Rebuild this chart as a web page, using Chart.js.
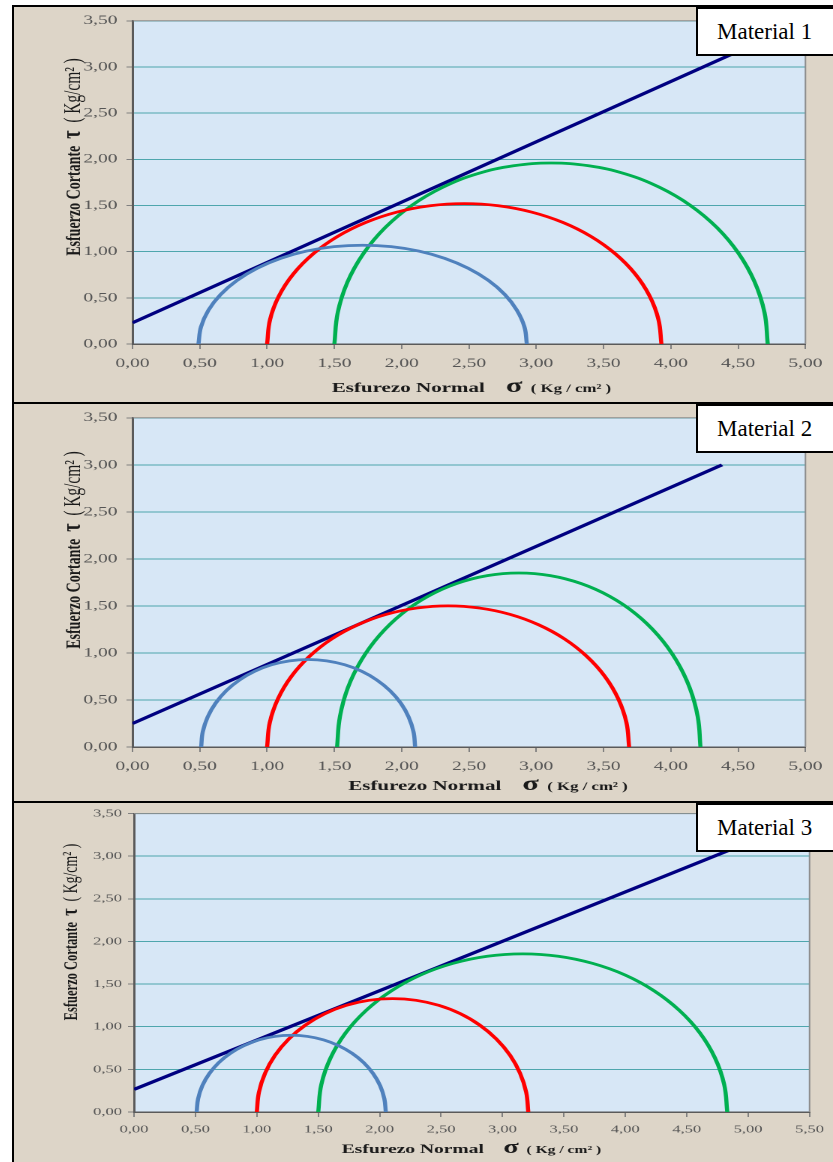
<!DOCTYPE html>
<html>
<head>
<meta charset="utf-8">
<script src="https://cdn.jsdelivr.net/npm/chart.js@4.4.0/dist/chart.umd.min.js"></script>
<style>
html, body { margin: 0; padding: 0; overflow: hidden; background: #fff; }
body { width: 833px; height: 1162px; position: relative; }
.panel { position: absolute; left: 12px; width: 840px; border: 2px solid #000; box-sizing: border-box; background: #ddd5c8; overflow: hidden; }
.panel canvas { position: absolute; left: 0; top: 0; transform: scaleX(1.5); transform-origin: 0 0; }
.legend { position: absolute; left: 696px; width: 160px; height: 49px; border: 2px solid #000; box-sizing: border-box; background: #fff;
  font-family: "Liberation Serif", serif; font-size: 23px; line-height: 45px; padding-left: 19px; color: #000; }
</style>
</head>
<body>
<div class="panel" style="top:5px;height:400px"><canvas id="c1" width="546" height="396"></canvas></div>
<div class="panel" style="top:402px;height:401px"><canvas id="c2" width="546" height="397"></canvas></div>
<div class="panel" style="top:801px;height:370px"><canvas id="c3" width="546" height="359"></canvas></div>
<div class="legend" style="top:7px">Material 1</div>
<div class="legend" style="top:404px">Material 2</div>
<div class="legend" style="top:803px">Material 3</div>
<script>
// Material 1 : [sigma, tau]
const m1Circle1 = [[0.49,0],[0.509,0.186],[0.564,0.366],[0.654,0.535],[0.776,0.688],[0.926,0.820],[1.100,0.927],[1.293,1.006],[1.498,1.054],[1.71,1.07],[1.922,1.054],[2.127,1.006],[2.320,0.927],[2.494,0.820],[2.645,0.688],[2.767,0.535],[2.856,0.366],[2.912,0.186],[2.93,0]];
const m1Circle2 = [[1.00,0],[1.022,0.264],[1.088,0.520],[1.196,0.760],[1.343,0.977],[1.523,1.164],[1.733,1.316],[1.964,1.428],[2.211,1.497],[2.465,1.52],[2.719,1.497],[2.966,1.428],[3.198,1.316],[3.407,1.164],[3.587,0.977],[3.734,0.760],[3.842,0.520],[3.908,0.264],[3.93,0]];
const m1Circle3 = [[1.50,0],[1.525,0.340],[1.597,0.670],[1.716,0.980],[1.877,1.260],[2.075,1.501],[2.305,1.697],[2.559,1.842],[2.831,1.930],[3.11,1.96],[3.390,1.930],[3.661,1.842],[3.915,1.697],[4.145,1.501],[4.343,1.260],[4.504,0.980],[4.623,0.670],[4.696,0.340],[4.72,0]];
const m1Envelope = [[0,0.23],[4.70,3.30]];

// Material 2
const m2Circle1 = [[0.51,0],[0.522,0.161],[0.558,0.318],[0.617,0.465],[0.696,0.598],[0.794,0.712],[0.908,0.805],[1.033,0.874],[1.167,0.916],[1.305,0.93],[1.443,0.916],[1.577,0.874],[1.703,0.805],[1.816,0.712],[1.914,0.598],[1.994,0.465],[2.052,0.318],[2.088,0.161],[2.10,0]];
const m2Circle2 = [[1.00,0],[1.020,0.260],[1.081,0.513],[1.180,0.750],[1.315,0.964],[1.480,1.149],[1.673,1.299],[1.885,1.410],[2.112,1.477],[2.345,1.50],[2.579,1.477],[2.805,1.410],[3.018,1.299],[3.210,1.149],[3.375,0.964],[3.510,0.750],[3.609,0.513],[3.670,0.260],[3.69,0]];
const m2Circle3 = [[1.52,0],[1.541,0.321],[1.601,0.633],[1.701,0.925],[1.836,1.189],[2.002,1.417],[2.195,1.602],[2.408,1.738],[2.636,1.822],[2.87,1.85],[3.104,1.822],[3.332,1.738],[3.545,1.602],[3.738,1.417],[3.904,1.189],[4.039,0.925],[4.139,0.633],[4.200,0.321],[4.22,0]];
const m2Envelope = [[0,0.25],[4.38,3.00]];

// Material 3
const m3Circle1 = [[0.51,0],[0.522,0.156],[0.556,0.308],[0.613,0.450],[0.690,0.579],[0.785,0.689],[0.895,0.779],[1.017,0.846],[1.146,0.886],[1.28,0.90],[1.414,0.886],[1.543,0.846],[1.665,0.779],[1.775,0.689],[1.870,0.579],[1.947,0.450],[2.004,0.308],[2.038,0.156],[2.05,0]];
const m3Circle2 = [[1.00,0],[1.017,0.231],[1.067,0.455],[1.148,0.665],[1.259,0.855],[1.395,1.019],[1.553,1.152],[1.727,1.250],[1.913,1.310],[2.105,1.33],[2.297,1.310],[2.483,1.250],[2.658,1.152],[2.815,1.019],[2.951,0.855],[3.062,0.665],[3.143,0.455],[3.193,0.231],[3.21,0]];
const m3Circle3 = [[1.50,0],[1.525,0.322],[1.600,0.634],[1.723,0.928],[1.890,1.192],[2.095,1.421],[2.333,1.607],[2.596,1.743],[2.876,1.827],[3.165,1.855],[3.454,1.827],[3.734,1.743],[3.998,1.607],[4.235,1.421],[4.440,1.192],[4.607,0.928],[4.730,0.634],[4.805,0.322],[4.83,0]];
const m3Envelope = [[0,0.265],[5.00,3.16]];

// axis titles, split in runs with their own font size
const xTitleRuns = [['Esfurezo Normal', 'bold', 1], ['    ', 'bold', 1], ['\u03c3', 'bold', 1.45], ['  ( Kg / cm\u00b2 )', 'bold', 0.8]];
const yTitleRuns = [['Esfuerzo Cortante', 'bold', 1], ['  ', 'bold', 1], ['\u03c4', 'bold', 1.3], ['  ( Kg/cm\u00b2 )', 'normal', 1.1]];

const fmt = v => Number(v).toFixed(2).replace('.', ',');
const toPts = a => a.map(p => ({ x: p[0], y: p[1] }));

function drawRuns(ctx, runs, size, x, y, rotate) {
  ctx.save();
  ctx.translate(x, y);
  if (rotate) ctx.rotate(-Math.PI / 2);
  ctx.fillStyle = '#1a1a1a';
  ctx.textBaseline = 'alphabetic';
  ctx.textAlign = 'left';
  const fonts = runs.map(r => r[1] + ' ' + (size * r[2]).toFixed(1) + 'px "Liberation Serif"');
  let total = 0;
  const widths = runs.map((r, i) => { ctx.font = fonts[i]; const w = ctx.measureText(r[0]).width; total += w; return w; });
  let pos = -total / 2;
  runs.forEach((r, i) => { ctx.font = fonts[i]; ctx.fillText(r[0], pos, 0); pos += widths[i]; });
  ctx.restore();
}

// plot area fill, frame and axis titles
const plotBg = {
  id: 'plotBg',
  beforeDraw(chart) {
    const { ctx, chartArea: a } = chart;
    ctx.save();
    ctx.fillStyle = '#d7e7f6';
    ctx.fillRect(a.left, a.top, a.width, a.height);
    ctx.restore();
  },
  afterDraw(chart, args, opts) {
    const { ctx, chartArea: a } = chart;
    ctx.save();
    ctx.strokeStyle = '#8c8c8c';
    ctx.lineWidth = 1;
    ctx.beginPath();
    ctx.moveTo(a.left, a.top);
    ctx.lineTo(a.right, a.top);
    ctx.lineTo(a.right, a.bottom);
    ctx.stroke();
    ctx.restore();
    drawRuns(ctx, xTitleRuns, opts.xSize, opts.xCenter, opts.xBase, false);
    drawRuns(ctx, yTitleRuns, opts.ySize, opts.yBase, opts.yCenter, true);
  }
};

function makeChart(id, circles, envelope, o) {
  const colors = ['#4f81bd', '#ff0000', '#00b050'];
  const datasets = circles.map((c, i) => ({
    data: toPts(c), borderColor: colors[i], borderWidth: 2.75, tension: 0.4
  }));
  datasets.push({ data: toPts(envelope), borderColor: '#000080', borderWidth: 3, tension: 0 });

  return new Chart(document.getElementById(id), {
    type: 'scatter',
    data: { datasets: datasets },
    plugins: [plotBg],
    options: {
      responsive: false,
      devicePixelRatio: 2,
      animation: false,
      showLine: true,
      elements: { point: { radius: 0 }, line: { fill: false } },
      layout: { padding: { left: 0, top: o.top, right: o.right, bottom: 0 } },
      plugins: {
        legend: { display: false },
        tooltip: { enabled: false },
        plotBg: o.titles
      },
      scales: {
        x: {
          type: 'linear', min: 0, max: o.xMax,
          afterFit(s) { s.height = o.xH; },
          ticks: { stepSize: 0.5, callback: fmt, maxRotation: 0, autoSkip: false, padding: o.xTickPad,
            color: '#555', font: { family: 'Liberation Serif', size: o.tick } },
          grid: { drawOnChartArea: false, drawTicks: true, tickLength: 5, tickColor: '#808080' },
          border: { color: '#5a5a5a', width: 1.5 }
        },
        y: {
          type: 'linear', min: 0, max: 3.5,
          afterFit(s) { s.width = o.yW; },
          ticks: { stepSize: 0.5, callback: fmt, padding: o.yTickPad,
            color: '#555', font: { family: 'Liberation Serif', size: o.tick } },
          grid: { color: '#4ea6ad', lineWidth: 1, tickLength: 4, tickColor: '#808080' },
          border: { color: '#5a5a5a', width: 1.5 }
        }
      }
    }
  });
}

makeChart('c1', [m1Circle1, m1Circle2, m1Circle3], m1Envelope,
  { xMax: 5, top: 13, right: 16, xH: 59, yW: 79, tick: 13, xTickPad: 7, yTickPad: 6,
    titles: { xSize: 14, xCenter: 305, xBase: 385, ySize: 14, yBase: 44, yCenter: 150 } });
makeChart('c2', [m2Circle1, m2Circle2, m2Circle3], m2Envelope,
  { xMax: 5, top: 13, right: 15, xH: 54, yW: 79, tick: 13, xTickPad: 7, yTickPad: 6,
    titles: { xSize: 14, xCenter: 316, xBase: 386, ySize: 14, yBase: 44, yCenter: 146 } });
makeChart('c3', [m3Circle1, m3Circle2, m3Circle3], m3Envelope,
  { xMax: 5.5, top: 9, right: 14, xH: 50, yW: 80, tick: 11, xTickPad: 6, yTickPad: 4,
    titles: { xSize: 13, xCenter: 305, xBase: 350, ySize: 12.5, yBase: 42, yCenter: 129 } });
</script>
</body>
</html>
